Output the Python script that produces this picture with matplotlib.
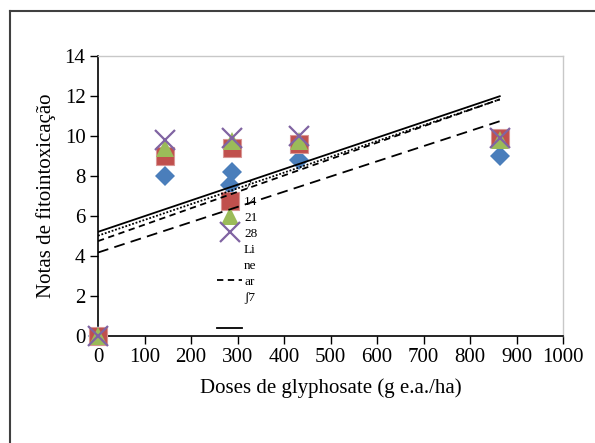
import numpy as np
import matplotlib
matplotlib.use("Agg")
import matplotlib.pyplot as plt
from matplotlib.lines import Line2D

doses = [0, 144, 288, 432, 864]
d7 = [0, 8.0, 8.2, 8.8, 9.0]
d14 = [0, 9.0, 9.4, 9.6, 9.9]
d21 = [0, 9.4, 9.75, 9.75, 9.8]
d28 = [0, 9.8, 9.9, 10.0, 9.9]
x_ticks = list(range(0, 1001, 100))
y_ticks = list(range(0, 15, 2))

plt.rcParams['font.family'] = ['Liberation Serif', 'DejaVu Serif']

fig = plt.figure(figsize=(5.95, 4.43), dpi=100)
ax = fig.add_axes([98/595, 1-336/443, (563-98)/595, (336-56)/443])

# outer frame
frame_col = '#404040'
fig.add_artist(Line2D([10/595, 1.0], [1-11/443, 1-11/443], color=frame_col, lw=1.5, transform=fig.transFigure))
fig.add_artist(Line2D([10/595, 10/595], [0.0, 1-11/443], color=frame_col, lw=1.5, transform=fig.transFigure))

series = [
    (d7, 'D', '#4A7EBB', 10.0, 'dashed7'),
    (d14, 's', '#C0504D', 13.0, 'dash14'),
    (d21, '^', '#9BBB59', 13.0, 'dot21'),
    (d28, 'x', '#8064A2', 14.0, 'solid28'),
]
line_styles = {
    'dashed7': (0, (6, 3.5)),
    'dash14': (0, (3.5, 2.5)),
    'dot21': (0, (1, 1)),
    'solid28': '-',
}

handles = []
xs = np.array(doses, dtype=float)
for vals, mk, col, ms, key in series:
    if mk == 'x':
        h, = ax.plot(doses, vals, linestyle='none', marker=mk, color=col, markersize=ms,
                     markeredgewidth=1.6, clip_on=False, zorder=4)
    elif mk == 's':
        h, = ax.plot(doses, vals, linestyle='none', marker=mk, color=col, markersize=ms,
                     markeredgecolor='#D99694', markeredgewidth=0.8, clip_on=False, zorder=4)
    else:
        h, = ax.plot(doses, vals, linestyle='none', marker=mk, color=col, markersize=ms,
                     markeredgewidth=0, clip_on=False, zorder=4)
    handles.append(h)

for vals, mk, col, ms, key in series:
    p = np.polyfit(xs, np.array(vals, dtype=float), 1)
    xx = np.array([xs.min(), xs.max()])
    ax.plot(xx, np.polyval(p, xx), color='black', lw=1.3, linestyle=line_styles[key], zorder=5)

ax.set_xlim(0, 1000)
ax.set_ylim(0, 14)
ax.set_xticks(x_ticks)
ax.set_yticks(y_ticks)
ax.tick_params(axis='both', direction='out', length=6, width=1, labelsize=15, pad=3, color='black')
for s in ['left', 'bottom']:
    ax.spines[s].set_color('black')
    ax.spines[s].set_linewidth(1.2)
for s in ['top', 'right']:
    ax.spines[s].set_color('#C8C8C8')
    ax.spines[s].set_linewidth(1.0)

ax.set_xlabel('Doses de glyphosate (g e.a./ha)', fontsize=15, labelpad=8)
ax.set_ylabel('Notas de fitointoxicação', fontsize=15, labelpad=6)

blank = Line2D([], [], linestyle='none')
leg_handles = [handles[0], handles[1], handles[2], handles[3], blank, blank,
               Line2D([], [], color='black', lw=1.3, linestyle=(0, (3.5, 2.5))), blank, blank,
               Line2D([], [], color='black', lw=1.3, linestyle='-')]
leg_labels = ['7', '14', '21', '28', 'Li', 'ne', 'ar', 'ʃ7', ' ', ' ']
leg = ax.legend(leg_handles, leg_labels, loc='upper left', bbox_to_anchor=((217-98)/465, (336-180)/280),
                frameon=False, fontsize=9.5, handlelength=1.9, handletextpad=0.15, borderpad=0,
                borderaxespad=0, labelspacing=0.28, markerscale=1.0)
leg.set_zorder(3)

fig.savefig('out.png', dpi=100)
